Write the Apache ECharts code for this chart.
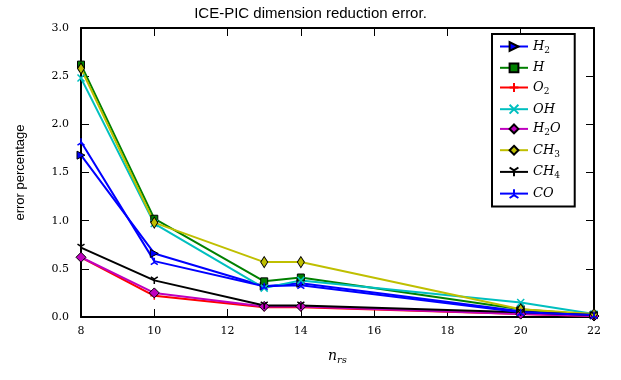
<!DOCTYPE html>
<html>
<head>
<meta charset="utf-8">
<script src="https://cdn.jsdelivr.net/npm/echarts@6/dist/echarts.min.js"></script>
<style>
  html, body { margin: 0; padding: 0; background: #fff; }
  #chart { width: 621px; height: 380px; }
</style>
</head>
<body>
<div id="chart"></div>
<script>
const nrs = [8, 10, 13, 14, 20, 22];
const xTicks = [8, 10, 12, 14, 16, 18, 20, 22];

const h2 = [1.68, 0.66, 0.32, 0.35, 0.06, 0.02];
const h = [2.62, 1.02, 0.37, 0.41, 0.08, 0.02];
const o2 = [0.62, 0.22, 0.10, 0.10, 0.03, 0.01];
const oh = [2.48, 0.97, 0.30, 0.38, 0.15, 0.03];
const h2o = [0.62, 0.25, 0.11, 0.11, 0.03, 0.01];
const ch3 = [2.58, 0.98, 0.57, 0.57, 0.08, 0.03];
const ch4 = [0.72, 0.38, 0.12, 0.12, 0.05, 0.02];
const co = [1.82, 0.58, 0.32, 0.33, 0.05, 0.02];

const names = ['H2', 'H', 'O2', 'OH', 'H2O', 'CH3', 'CH4', 'CO'];
const labels = {
    H2: '{i|H}{s|2}',
    H: '{i|H}',
    O2: '{i|O}{s|2}',
    OH: '{i|OH}',
    H2O: '{i|H}{s|2}{i|O}',
    CH3: '{i|CH}{s|3}',
    CH4: '{i|CH}{s|4}',
    CO: '{i|CO}'
};

const plus = 'path://M0,5L10,5M5,0L5,10';
const cross = 'path://M0,0L10,10M10,0L0,10';
const triDown = 'path://M5,5L5,10M5,5L0.7,2.5M5,5L9.3,2.5';
const triUp = 'path://M5,5L5,0M5,5L0.7,7.5M5,5L9.3,7.5';

function pairs(vals) {
    return nrs.map((x, i) => [x, vals[i]]);
}

function line(name, vals, color, symbol, size, extra) {
    return Object.assign({
        name: name,
        type: 'line',
        data: pairs(vals),
        symbol: symbol,
        symbolSize: size,
        lineStyle: {color: color, width: 2},
        itemStyle: {color: color, borderColor: '#000', borderWidth: 1},
        emphasis: {disabled: true},
        z: 3
    }, extra || {});
}

const myChart = echarts.init(document.getElementById('chart'));
myChart.setOption({
    animation: false,
    backgroundColor: '#fff',
    title: {
        text: 'ICE-PIC dimension reduction error.',
        left: 'center',
        top: 1,
        textStyle: {fontFamily: 'Liberation Sans', fontWeight: 'normal', fontSize: 15, color: '#000'}
    },
    grid: {left: 81, right: 27, top: 28, bottom: 63},
    legend: {
        orient: 'vertical',
        left: 492,
        top: 34,
        width: 94,
        padding: [6, 14, 6, 7],
        itemGap: 6.3,
        itemWidth: 28,
        itemHeight: 11,
        borderColor: '#000',
        borderWidth: 2,
        backgroundColor: '#fff',
        data: names,
        formatter: n => labels[n],
        textStyle: {
            rich: {
                i: {fontFamily: 'DejaVu Serif', fontStyle: 'italic', fontSize: 13, color: '#000'},
                s: {fontFamily: 'DejaVu Serif', fontSize: 9, color: '#000', verticalAlign: 'bottom', padding: [8, 0, 0, 0]}
            }
        }
    },
    xAxis: [{
        type: 'value',
        min: 8, max: 22, interval: 2,
        name: '{i|n}{s|rs}',
        nameLocation: 'middle',
        nameGap: 30,
        nameTextStyle: {
            rich: {
                i: {fontFamily: 'DejaVu Serif', fontStyle: 'italic', fontSize: 14, color: '#000'},
                s: {fontFamily: 'DejaVu Serif', fontStyle: 'italic', fontSize: 10, color: '#000', padding: [8, 0, 0, 0]}
            }
        },
        axisLine: {onZero: false, lineStyle: {color: '#000', width: 2}},
        axisTick: {inside: true, length: 8, lineStyle: {color: '#000', width: 1}},
        axisLabel: {fontFamily: 'DejaVu Serif', fontSize: 11, color: '#000', margin: 9},
        splitLine: {show: false}
    }, {
        type: 'value',
        position: 'top',
        min: 8, max: 22, interval: 2,
        axisLine: {show: true, onZero: false, lineStyle: {color: '#000', width: 2}},
        axisTick: {inside: true, length: 8, lineStyle: {color: '#000', width: 1}},
        axisLabel: {show: false},
        splitLine: {show: false}
    }],
    yAxis: [{
        type: 'value',
        min: 0, max: 3, interval: 0.5,
        name: 'error percentage',
        nameLocation: 'middle',
        nameGap: 54,
        nameTextStyle: {fontFamily: 'Liberation Sans', fontSize: 13, color: '#000'},
        axisLine: {show: true, onZero: false, lineStyle: {color: '#000', width: 2}},
        axisTick: {show: true, inside: true, length: 8, lineStyle: {color: '#000', width: 1}},
        axisLabel: {fontFamily: 'DejaVu Serif', fontSize: 11, color: '#000', margin: 12, formatter: v => v.toFixed(1)},
        splitLine: {show: false}
    }, {
        type: 'value',
        position: 'right',
        min: 0, max: 3, interval: 0.5,
        axisLine: {show: true, onZero: false, lineStyle: {color: '#000', width: 2}},
        axisTick: {show: true, inside: true, length: 8, lineStyle: {color: '#000', width: 1}},
        axisLabel: {show: false},
        splitLine: {show: false}
    }],
    series: [
        line('H2', h2, '#0000ff', 'triangle', 8, {symbolRotate: -90, itemStyle: {color: '#0000ff', borderColor: '#000', borderWidth: 1}}),
        line('H', h, '#008000', 'rect', 7),
        line('O2', o2, '#ff0000', plus, 8, {itemStyle: {color: 'none', borderColor: '#ff0000', borderWidth: 1.5}}),
        line('OH', oh, '#00bfbf', cross, 7, {itemStyle: {color: 'none', borderColor: '#00bfbf', borderWidth: 1.5}}),
        line('H2O', h2o, '#bf00bf', 'diamond', 10),
        line('CH3', ch3, '#bfbf00', 'diamond', [7, 11]),
        line('CH4', ch4, '#000000', triDown, 7, {itemStyle: {color: 'none', borderColor: '#000', borderWidth: 1.5}}),
        line('CO', co, '#0000ff', triUp, 7, {itemStyle: {color: 'none', borderColor: '#0000ff', borderWidth: 1.5}})
    ]
});
</script>
</body>
</html>
